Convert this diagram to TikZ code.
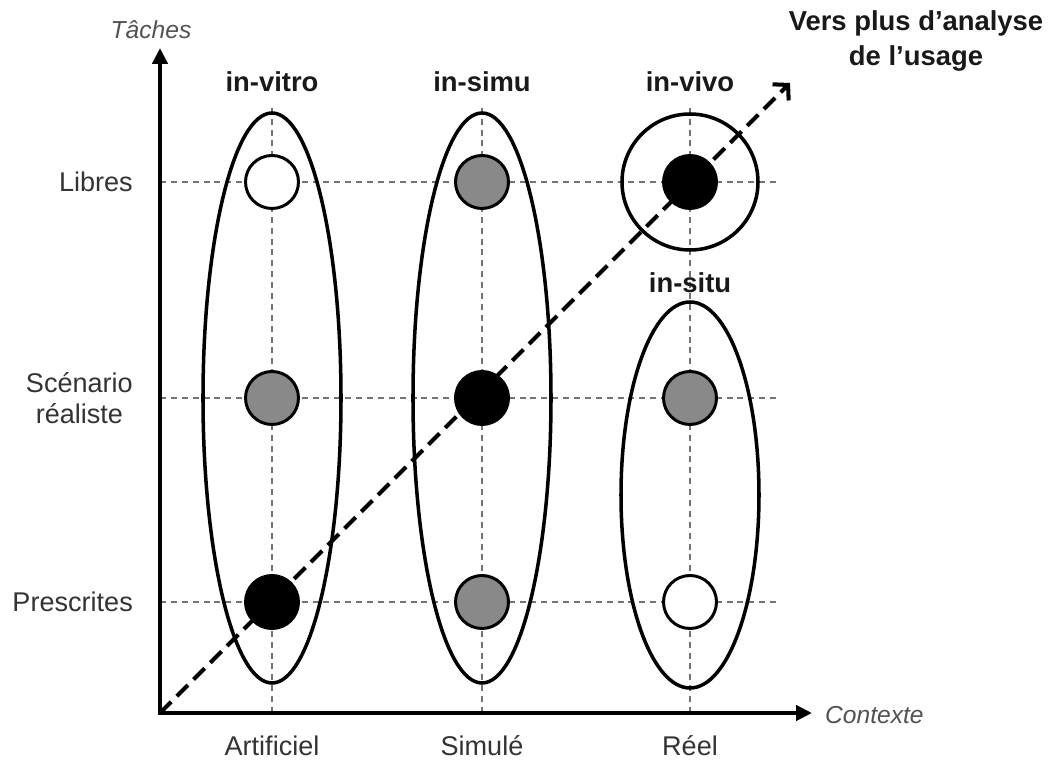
\documentclass[tikz,border=0pt]{standalone}
\usepackage{fontspec}
\setmainfont{Liberation Sans}
\usetikzlibrary{arrows.meta}
\definecolor{grismoyen}{HTML}{898989}
\definecolor{texte}{HTML}{333333}
\tikzset{
  grille/.style={black!55, line width=1.1pt, dash pattern=on 3.4pt off 2.8pt},
  axe/.style={line width=2.3pt, {Triangle[length=9pt,width=8.5pt]}-{Triangle[length=9pt,width=8.5pt]}},
  groupe/.style={line width=2pt},
  point/.style={circle, draw, line width=1.7pt, minimum size=1.06cm, inner sep=0pt},
  blanc/.style={point, fill=white},
  gris/.style={point, fill=grismoyen},
  noir/.style={point, fill=black},
  titre/.style={font=\fontsize{15.6}{19.5}\selectfont\bfseries, text=black!90},
  etiquette/.style={text=texte},
  axelabel/.style={text=texte!85, font=\fontsize{14}{17}\selectfont\itshape},
}
\begin{document}
\begin{tikzpicture}[font=\fontsize{15.4}{18}\selectfont]
  \useasboundingbox (-3.2,-1.0) rectangle (17.8,14.26);
  \coordinate (O) at (0,0);
  \coordinate (Ytop) at (0,13.3);
  \coordinate (Xend) at (13.04,0);
  \coordinate (D) at (12.6,12.6);
  % grille pointillee
  \foreach \x in {2.24,6.44,10.6}
    \draw[grille] (\x,0) -- (\x,12.16);
  \foreach \y in {2.22,6.3,10.62}
    \draw[grille] (0,\y) -- (12.4,\y);
  % regroupements
  \draw[groupe] (2.24,6.3) ellipse (1.38cm and 5.7cm);
  \draw[groupe] (6.44,6.3) ellipse (1.38cm and 5.7cm);
  \draw[groupe] (10.6,10.62) circle (1.36cm);
  \draw[groupe] (10.6,4.36) ellipse (1.38cm and 3.86cm);
  % axes
  \draw[axe] (Ytop) -- (O) -- (Xend);
  \draw[line width=2.3pt, dash pattern=on 9pt off 4.5pt, -{Straight Barb[length=6pt,width=13pt]}] (O) -- (D);
  % points
  \node[blanc] (vitroL) at (2.24,10.62) {};
  \node[gris] (vitroS) at (2.24,6.3) {};
  \node[noir] (vitroP) at (2.24,2.22) {};
  \node[gris] (simuL) at (6.44,10.62) {};
  \node[noir] (simuS) at (6.44,6.3) {};
  \node[gris] (simuP) at (6.44,2.22) {};
  \node[noir] (vivoL) at (10.6,10.62) {};
  \node[gris] (situS) at (10.6,6.3) {};
  \node[blanc] (situP) at (10.6,2.22) {};
  % titres
  \node[titre] (vitro) at (2.24,12.62) {in-vitro};
  \node[titre] (simu) at (6.44,12.62) {in-simu};
  \node[titre] (vivo) at (10.6,12.62) {in-vivo};
  \node[titre] (situ) at (10.6,8.6) {in-situ};
  \node[titre, align=center] (vers) at (15.12,13.44) {Vers plus d’analyse\\de l’usage};
  % etiquettes des axes
  \node[axelabel] (taches) at (-0.18,13.66) {Tâches};
  \node[axelabel, anchor=west] (contexte) at (13.18,-0.04) {Contexte};
  \node[etiquette, anchor=east] (libres) at (-0.42,10.62) {Libres};
  \node[etiquette, anchor=east, align=center] (scenario) at (-0.42,6.3) {Scénario\\réaliste};
  \node[etiquette, anchor=east] (prescrites) at (-0.42,2.22) {Prescrites};
  \node[etiquette] (artificiel) at (2.24,-0.66) {Artificiel};
  \node[etiquette] (simule) at (6.44,-0.66) {Simulé};
  \node[etiquette] (reel) at (10.6,-0.66) {Réel};
\end{tikzpicture}
\end{document}
